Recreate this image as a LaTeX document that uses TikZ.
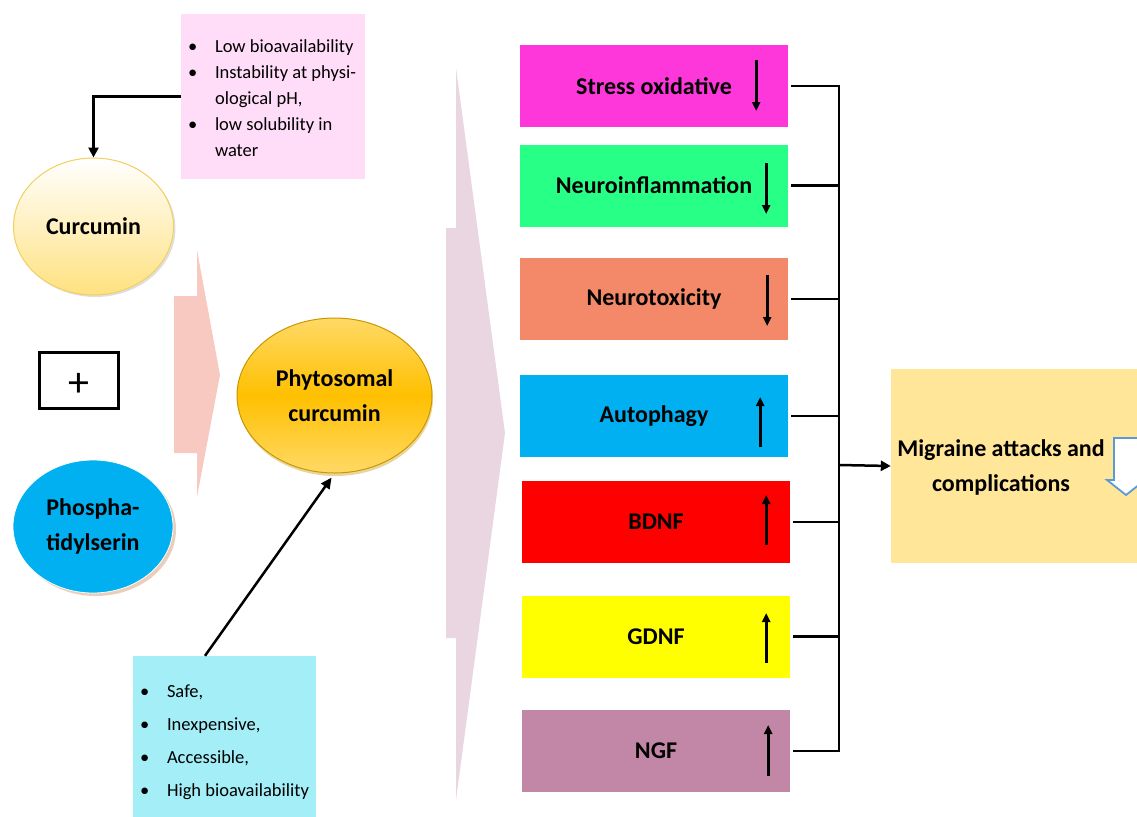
\documentclass[tikz,border=0pt]{standalone}
\usepackage{fontspec}
\setmainfont{Carlito}
\usetikzlibrary{arrows.meta,shapes.geometric,calc,shadows}
\definecolor{pinkbg}{HTML}{FFDDF8}
\definecolor{cyanbg}{HTML}{A4EEF8}
\definecolor{mauvearr}{HTML}{E9D6E0}
\definecolor{salmonarr}{HTML}{F8C9C1}
\definecolor{cMag}{HTML}{FD37DA}
\definecolor{cGreen}{HTML}{27FF87}
\definecolor{cOrange}{HTML}{F4896A}
\definecolor{cBlue}{HTML}{00B0F0}
\definecolor{cRed}{HTML}{FF0000}
\definecolor{cYellow}{HTML}{FFFF00}
\definecolor{cMauve}{HTML}{C286A6}
\definecolor{cMig}{HTML}{FFE699}
\definecolor{curBot}{HTML}{FFE17F}
\definecolor{curBorder}{HTML}{F2CF5E}
\definecolor{phyLight}{HTML}{FFD966}
\definecolor{phyMid}{HTML}{FFC000}
\definecolor{phyBorder}{HTML}{C99700}
\definecolor{hollowblue}{HTML}{5B9BD5}
\newcommand{\mybul}{\makebox[27pt][l]{\textbullet}}
\tikzset{
  lbl/.style={font=\fontsize{24}{35}\selectfont\bfseries, align=center},
  effbox/.style={rectangle, minimum width=268pt, minimum height=82pt, inner sep=0pt, lbl},
  conn/.style={line width=2.5pt},
  arr/.style={conn, -{Triangle[length=10pt,width=10pt]}},
  trend/.style={line width=2.7pt, -{Triangle[length=9pt,width=8pt]}},
  bulltext/.style={align=left, inner sep=0pt},
  oval/.style={ellipse, inner sep=0pt, lbl}
}
\begin{document}
\begin{tikzpicture}[x=1pt,y=-1pt]
\useasboundingbox (0,0) rectangle (1137,816);
% block arrows
\fill[salmonarr] (174,296) -- (197,296) -- (197,250) -- (220,375) -- (197,497) -- (197,453) -- (174,453) -- cycle;
\fill[mauvearr] (446,228) -- (456,228) -- (456,68) -- (505,433) -- (456,800) -- (456,638) -- (446,638) -- cycle;

% left side
\node[rectangle, fill=pinkbg, minimum width=184pt, minimum height=165pt, inner sep=0pt] (pink) at (273,96.5) {};
\node[bulltext, font=\fontsize{18.5}{26}\selectfont] (pinktext) at (272,98.5)
  {\mybul Low bioavailability\\ \mybul Instability at physi-\\ \hspace*{27pt}ological pH,\\ \mybul low solubility in\\ \hspace*{27pt}water};

\node[oval, minimum width=160pt, minimum height=137pt, top color=white, bottom color=curBot, draw=curBorder, line width=1pt,
  drop shadow={shadow xshift=2pt, shadow yshift=-2pt, opacity=0.25, fill=gray}] (cur) at (93.5,226.5) {Curcumin};

\node[rectangle, draw=black, line width=3pt, minimum width=79pt, minimum height=56pt, inner sep=0pt] (plus) at (78.5,380) {};
\node[font=\fontsize{42}{44}\selectfont, inner sep=0pt] (plussign) at (78.5,385) {+};

\node[oval, minimum width=160pt, minimum height=133pt, fill=cBlue, draw=white, line width=0.8pt,
  drop shadow={shadow xshift=3pt, shadow yshift=-3pt, opacity=0.45, fill=brown!70!pink}] (phos) at (93,526.5) {Phospha-\\tidylserin};

\node[oval, minimum width=195pt, minimum height=155pt, top color=phyLight, bottom color=phyLight, middle color=phyMid,
  draw=phyBorder, line width=1pt,
  drop shadow={shadow xshift=1pt, shadow yshift=-3pt, opacity=0.4, fill=phyBorder}] (phy) at (334.5,395.5) {Phytosomal\\curcumin};

\node[rectangle, fill=cyanbg, minimum width=183pt, minimum height=162pt, inner sep=0pt] (cyan) at (224.5,737) {};
\node[bulltext, font=\fontsize{18.5}{33}\selectfont] (cyantext) at (224.5,742)
  {\mybul Safe,\\ \mybul Inexpensive,\\ \mybul Accessible,\\ \mybul High bioavailability};

\draw[line width=2.5pt, -{Triangle[length=10pt,width=10pt]}] (pink.west) -| (cur.north);
\draw[line width=2.5pt, -{Triangle[length=11pt,width=10pt]}, shorten >=5pt] ($(cyan.north)+(-19.5,0)$) -- (phy.south);

% effect boxes
\node[effbox, fill=cMag]    (s1) at (654,86)    {Stress oxidative};
\node[effbox, fill=cGreen]  (s2) at (654,185.5) {Neuroinflammation};
\node[effbox, fill=cOrange] (s3) at (654,299)   {Neurotoxicity};
\node[effbox, fill=cBlue]   (s4) at (654,416)   {Autophagy};
\node[effbox, fill=cRed]    (s5) at (656,522)   {BDNF};
\node[effbox, fill=cYellow] (s6) at (656,636.5) {GDNF};
\node[effbox, fill=cMauve]  (s7) at (656,751)   {NGF};

% trend arrows
\draw[trend] ($(s1.east)+(-32,-26)$) -- ($(s1.east)+(-32,25)$);
\draw[trend] ($(s2.east)+(-22,-22.5)$) -- ($(s2.east)+(-22,28.5)$);
\draw[trend] ($(s3.east)+(-21,-24)$) -- ($(s3.east)+(-21,27)$);
\draw[trend] ($(s4.east)+(-28,31)$) -- ($(s4.east)+(-28,-19)$);
\draw[trend] ($(s5.east)+(-24,23)$) -- ($(s5.east)+(-24,-27)$);
\draw[trend] ($(s6.east)+(-24,26.5)$) -- ($(s6.east)+(-24,-23.5)$);
\draw[trend] ($(s7.east)+(-22,25)$) -- ($(s7.east)+(-22,-26)$);

% migraine box
\node[rectangle, fill=cMig, minimum width=246pt, minimum height=194pt, inner sep=0pt] (mig) at (1014,466) {};
\node[lbl, inner sep=0pt] (migtext) at (1001,467.5) {Migraine attacks and\\complications};
\begin{scope}
\clip (0,0) rectangle (1137,816);
\draw[hollowblue, fill=white, line width=1.8pt, line join=miter]
  (1114,438) -- (1138,438) -- (1138,480) -- (1145,480) -- (1126,495) -- (1107,480) -- (1114,480) -- cycle;
\end{scope}

% bus
\coordinate (bus) at (839,465);
\foreach \s in {s1,s2,s3,s4,s5,s6,s7}{
  \draw[conn, shorten <=3pt] (\s.east) -- (\s.east -| bus);
}
\draw[conn, line cap=rect] (s1.east -| bus) -- (s7.east -| bus);
\draw[arr] (bus) -- (mig.west);
\end{tikzpicture}
\end{document}
